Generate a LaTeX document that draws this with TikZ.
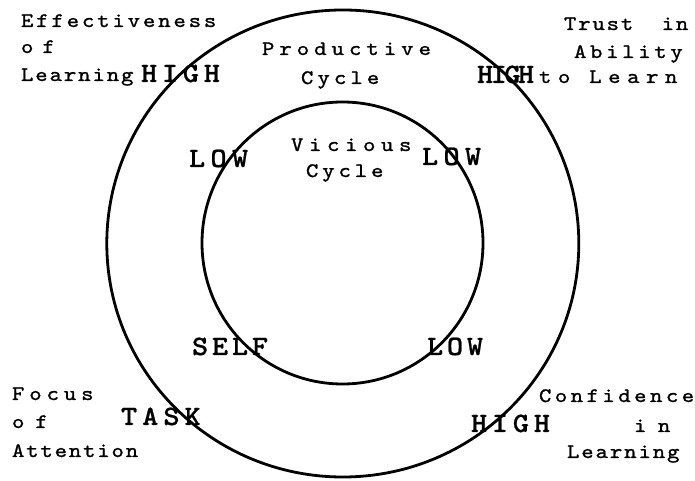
\documentclass[tikz,border=0pt]{standalone}
\usepackage{fontspec}
\newfontfamily\tw{lmmono10-regular.otf}[FakeStretch=1.15,FakeBold=1.2]
\newfontfamily\twb{lmmonolt10-bold.otf}[FakeStretch=1.1,FakeBold=0.8]
\newcommand\rg[1]{\fontsize{20.5}{22}\selectfont\tw\addfontfeatures{LetterSpace=#1}}
\newcommand\bd[1]{\fontsize{28}{30}\selectfont\twb\addfontfeatures{LetterSpace=#1}}
\tikzset{
  lbl/.style={anchor=base west,inner sep=0pt,outer sep=0pt},
  ring/.style={draw=black,line width=2.8pt}
}
\begin{document}
\begin{tikzpicture}[x=1pt,y=1pt]
\useasboundingbox (0,0) rectangle (695,481);
\fill[white] (0,0) rectangle (695,481);
% circles
\draw[ring] (342.8,237.5) ellipse [x radius=236, y radius=233.5];
\draw[ring] (342.5,238) ellipse [x radius=140.5, y radius=141];
% top-left
\node[lbl,font=\rg{14}] (eff) at (21,454) {Effectiveness};
\node[lbl,font=\rg{-16}] (of1) at (21,428) {o f};
\node[lbl,font=\rg{9.4}] (lrn1) at (21,400) {Learning};
\node[lbl,font=\bd{17}] (high1) at (141,399) {HIGH};
% top center
\node[lbl,font=\rg{24.5}] (prod) at (262,426) {Productive};
\node[lbl,font=\rg{20}] (cyc1) at (301,397) {Cycle};
% top-right
\node[lbl,font=\rg{9}] (trust) at (564,451) {Trust\ \ in};
\node[lbl,font=\rg{18}] (abil) at (574,423) {Ability};
\node[lbl,font=\bd{-9}] (high2) at (477,398) {HIGH};
\node[lbl,font=\rg{32}] (tolearn) at (539,398) {to Learn};
% inner
\node[lbl,font=\bd{19}] (low1) at (189,314) {LOW};
\node[lbl,font=\rg{27.5}] (vic) at (291,330) {Vicious};
\node[lbl,font=\rg{19}] (cyc2) at (306,304) {Cycle};
\node[lbl,font=\bd{19}] (low2) at (422,316) {LOW};
\node[lbl,font=\bd{13.5}] (self) at (192,126) {SELF};
\node[lbl,font=\bd{13.5}] (low3) at (427,126) {LOW};
% bottom-left
\node[lbl,font=\rg{24}] (focus) at (12,81) {Focus};
\node[lbl,font=\rg{-7}] (of2) at (12,53) {o f};
\node[lbl,font=\rg{9}] (att) at (12,24) {Attention};
\node[lbl,font=\bd{18}] (task) at (121,56) {TASK};
% bottom-right
\node[lbl,font=\rg{17}] (conf) at (539,79) {Confidence};
\node[lbl,font=\bd{17}] (high3) at (471,49) {HIGH};
\node[lbl,font=\rg{-4}] (in) at (634,49) {i n};
\node[lbl,font=\rg{9.4}] (lrn2) at (567,23) {Learning};
\end{tikzpicture}
\end{document}
